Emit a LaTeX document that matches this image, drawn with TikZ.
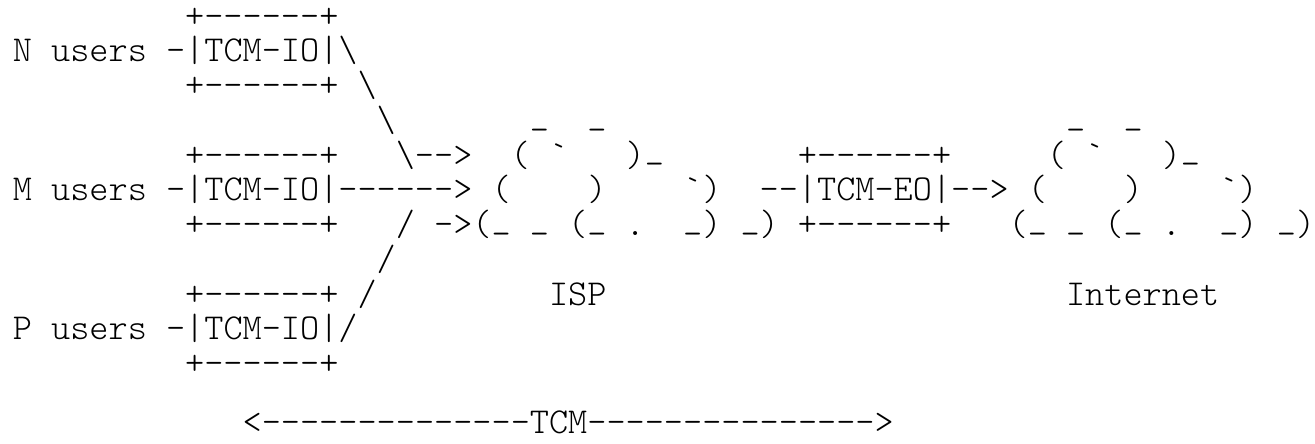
\documentclass[tikz,border=0pt]{standalone}
\newcommand{\bs}{\textbackslash}
\newcommand{\gr}{\textasciigrave}
\newcommand{\us}{\raisebox{0.2em}{\_}}
\tikzset{ascii/.style={font=\ttfamily\fontseries{l}\fontsize{18.24pt}{20pt}\selectfont,anchor=base west,inner sep=0pt}}

\begin{document}
\begin{tikzpicture}[x=9.575pt,y=-17.375pt]
	\useasboundingbox (-0.65,-0.78) rectangle (68.02,11.97);

	%ingress boxes
	\foreach \lab/\r in {N/0,M/4,P/8}{
	  \node[ascii] (top\lab) at (9,\r) {+------+};
	  \node[ascii] (io\lab) at (0,\r+1) {\lab~users~-|TCM-IO|};
	  \node[ascii] (bot\lab) at (9,\r+2) {+------+};
	}

	%N branch
	\node[ascii] (nA) at (17,1) {\bs};
	\node[ascii] (nB) at (18,2) {\bs};
	\node[ascii] (nC) at (19,3) {\bs};
	\node[ascii] (nD) at (20,4) {\bs-->};

	%M branch
	\node[ascii] (mA) at (17,5) {------>};

	%P branch
	\node[ascii] (pA) at (17,9) {/};
	\node[ascii] (pB) at (18,8) {/};
	\node[ascii] (pC) at (19,7) {/};
	\node[ascii] (pD) at (20,6) {/~->};

	%ISP cloud
	\node[ascii] (ispA) at (27,3) {\us~~\us};
	\node[ascii] (ispB) at (26,4) {(~\gr~~~)\us};
	\node[ascii] (ispC) at (25,5) {(~~~~)~~~~\gr)};
	\node[ascii] (ispD) at (24,6) {(\us~\us~(\us~.~~\us)~\us)};
	\node[ascii] (isp) at (28,8) {ISP};

	%egress box
	\node[ascii] (topE) at (41,4) {+------+};
	\node[ascii] (eo) at (39,5) {--|TCM-EO|-->};
	\node[ascii] (botE) at (41,6) {+------+};

	%Internet cloud
	\node[ascii] (inetA) at (55,3) {\us~~\us};
	\node[ascii] (inetB) at (54,4) {(~\gr~~~)\us};
	\node[ascii] (inetC) at (53,5) {(~~~~)~~~~\gr)};
	\node[ascii] (inetD) at (52,6) {(\us~\us~(\us~.~~\us)~\us)};
	\node[ascii] (inet) at (55,8) {Internet};

	%TCM span
	\node[ascii] (tcm) at (12,11.7) {<--------------TCM--------------->};
\end{tikzpicture}
\end{document}
